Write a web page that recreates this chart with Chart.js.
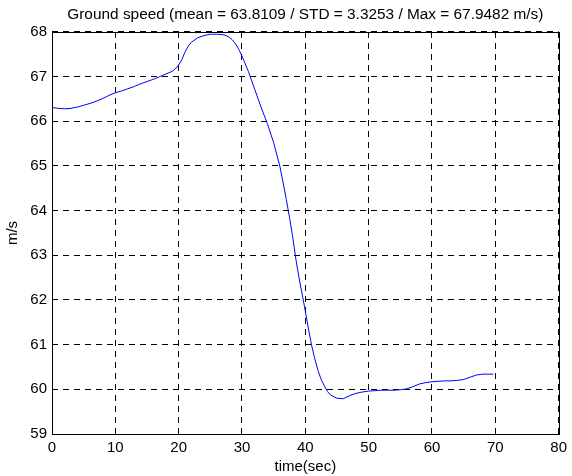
<!DOCTYPE html>
<html>
<head>
    <title>Ground speed</title>
    <script src="https://cdn.jsdelivr.net/npm/chart.js"></script>
    <style>
        body {
            margin: 0;
            background-color: #ffffff;
        }
        .chart-container {
            position: relative;
            width: 572px;
            height: 476px;
        }
    </style>
</head>
<body>
    <div class="chart-container">
        <canvas id="speedChart"></canvas>
    </div>

    <script>
        // time (sec) and ground speed (m/s)
        var timeSec = [0, 1, 2, 3, 4, 5, 6, 7, 8, 9, 10, 11, 12, 13, 14, 15, 16, 17, 18, 19, 19.5, 20, 20.5, 21, 21.5, 22, 23, 24, 25, 26, 27, 27.5, 28, 28.5, 29, 29.5, 30, 31, 32, 33, 34, 35, 36, 36.5, 37, 37.5, 38, 38.5, 39, 39.5, 40, 40.5, 41, 41.5, 42, 42.5, 43, 43.5, 44, 45, 46, 47, 48, 49, 50, 51, 52, 53, 54, 55, 56, 57, 58, 59, 60, 61, 62, 63, 64, 65, 66, 67, 68, 69, 69.7];
        var speed = [66.31, 66.29, 66.28, 66.29, 66.32, 66.36, 66.40, 66.45, 66.51, 66.58, 66.64, 66.68, 66.73, 66.78, 66.84, 66.89, 66.94, 67.00, 67.06, 67.12, 67.18, 67.26, 67.38, 67.55, 67.68, 67.77, 67.87, 67.92, 67.95, 67.95, 67.94, 67.92, 67.88, 67.82, 67.73, 67.61, 67.46, 67.12, 66.72, 66.32, 65.95, 65.52, 64.98, 64.62, 64.25, 63.85, 63.42, 62.92, 62.50, 62.13, 61.75, 61.35, 60.98, 60.68, 60.42, 60.22, 60.08, 59.95, 59.87, 59.80, 59.79, 59.86, 59.91, 59.94, 59.96, 59.97, 59.98, 59.98, 59.98, 59.99, 60.01, 60.06, 60.12, 60.15, 60.17, 60.18, 60.19, 60.19, 60.20, 60.22, 60.27, 60.32, 60.34, 60.34, 60.34];
        var xTicks = [0, 10, 20, 30, 40, 50, 60, 70, 80];
        var yTicks = [59, 60, 61, 62, 63, 64, 65, 66, 67, 68];
        var titleText = 'Ground speed (mean = 63.8109 / STD = 3.3253 / Max = 67.9482 m/s)';

        var fontFamily = "'Liberation Sans', Arial, sans-serif";

        // black box round the plot area
        var frame = {
            id: 'frame',
            afterDraw: function(chart) {
                var a = chart.chartArea;
                var ctx = chart.ctx;
                ctx.save();
                ctx.strokeStyle = '#000000';
                ctx.lineWidth = 1;
                ctx.strokeRect(Math.round(a.left) + 0.5, Math.round(a.top) + 0.5, Math.round(a.right - a.left), Math.round(a.bottom - a.top));
                ctx.restore();
            }
        };

        var points = timeSec.map(function(t, i) { return { x: t, y: speed[i] }; });

        new Chart(document.getElementById('speedChart'), {
            type: 'line',
            data: {
                datasets: [{
                    data: points,
                    borderColor: '#0000ff',
                    borderWidth: 1,
                    pointRadius: 0,
                    fill: false,
                    tension: 0
                }]
            },
            options: {
                responsive: true,
                maintainAspectRatio: false,
                animation: false,
                layout: { padding: { left: 0, right: 9, top: 0, bottom: 0 } },
                plugins: {
                    legend: { display: false },
                    tooltip: { enabled: false },
                    title: {
                        display: true,
                        text: titleText,
                        fullSize: false,
                        color: '#000000',
                        font: { family: fontFamily, size: 15.4, weight: 'normal', lineHeight: 1.2 },
                        padding: { top: 6, bottom: 7.5 }
                    }
                },
                scales: {
                    x: {
                        type: 'linear',
                        min: 0,
                        max: 80,
                        afterBuildTicks: function(s) { s.ticks = xTicks.map(function(v) { return { value: v }; }); },
                        afterFit: function(s) { s.height = 42; },
                        grid: { color: '#000000', lineWidth: 1, drawTicks: false },
                        border: { display: false, dash: [6, 5] },
                        ticks: { color: '#000000', padding: 5, maxRotation: 0, font: { family: fontFamily, size: 15 } },
                        title: {
                            display: true,
                            text: 'time(sec)',
                            color: '#000000',
                            font: { family: fontFamily, size: 15 },
                            padding: { top: 0, bottom: 0 }
                        }
                    },
                    y: {
                        min: 59,
                        max: 68,
                        afterBuildTicks: function(s) { s.ticks = yTicks.map(function(v) { return { value: v }; }); },
                        afterFit: function(s) { s.width = 52; },
                        grid: { color: '#000000', lineWidth: 1, drawTicks: false },
                        border: { display: false, dash: [6, 5] },
                        ticks: { color: '#000000', padding: 5, font: { family: fontFamily, size: 15 } },
                        title: {
                            display: true,
                            text: 'm/s',
                            color: '#000000',
                            font: { family: fontFamily, size: 15 },
                            padding: { top: 4, bottom: 0 }
                        }
                    }
                }
            },
            plugins: [frame]
        });
    </script>
</body>
</html>
